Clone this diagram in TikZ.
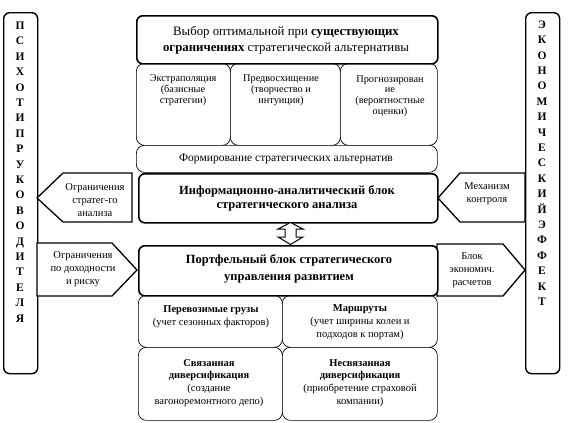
\documentclass[tikz,border=0pt]{standalone}
\usepackage{fontspec}
\setmainfont{Liberation Serif}
\begin{document}
\begin{tikzpicture}[x=1pt,y=-1pt,
  bigbox/.style={draw, line width=1.6pt, rounded corners=6pt, fill=white, anchor=north west, inner sep=0pt},
  smallbox/.style={draw, line width=0.7pt, rounded corners=8pt, fill=white, anchor=north west, inner sep=0pt},
  sidebox/.style={draw, line width=1.4pt, rounded corners=6pt, anchor=north west, inner sep=0pt},
  flag/.style={draw, line width=1.3pt, fill=white, line join=miter},
  lbl/.style={align=center, inner sep=0pt, font=\fontsize{10.5}{12.8}\selectfont},
  toplbl/.style={align=center, inner sep=0pt, font=\fontsize{10.3}{10.8}\selectfont},
  headlbl/.style={align=center, inner sep=0pt, font=\bfseries\fontsize{12.5}{14}\selectfont},
  letters/.style={align=center, inner sep=0pt, font=\bfseries\fontsize{11.5}{15.4}\selectfont},
]
\useasboundingbox (0,0) rectangle (574,423);

% side boxes
\node[sidebox, minimum width=34, minimum height=361] (lside) at (3,12) {};
\node[letters] (lletters) at (20,172) {П\\С\\И\\Х\\О\\Т\\И\\П\\Р\\У\\К\\О\\В\\О\\Д\\И\\Т\\Е\\Л\\Я};
\node[sidebox, minimum width=34, minimum height=361] (rside) at (525,12) {};
\node[letters] (rletters) at (542,163) {Э\\К\\О\\Н\\О\\М\\И\\Ч\\Е\\С\\К\\И\\Й\\Э\\Ф\\Ф\\Е\\К\\Т};

% three upper boxes
\node[smallbox, minimum width=94, minimum height=82] (b1) at (136,63) {};
\node[smallbox, minimum width=110, minimum height=82] (b2) at (230,63) {};
\node[smallbox, minimum width=97, minimum height=82] (b3) at (340,63) {};
\node[toplbl] (t1) at (183,90) {Экстраполяция\\(базисные\\стратегии)};
\node[toplbl] (t2) at (281,90) {Предвосхищение\\(творчество и\\интуиция)};
\node[toplbl] (t3) at (390,96) {Прогнозирован\\ие\\(вероятностные\\оценки)};

% formation
\node[smallbox, minimum width=301, minimum height=27] (form) at (136,145) {};
\node[lbl, font=\fontsize{11.5}{12}\selectfont] (tform) at (286,158.5) {Формирование стратегических альтернатив};

% top box
\node[bigbox, minimum width=301, minimum height=48] (top) at (136,15) {};
\node[align=center, inner sep=0pt, font=\fontsize{12.8}{16}\selectfont] (ttop) at (286,40)
  {Выбор оптимальной при \textbf{существующих}\\\textbf{ограничениях} стратегической альтернативы};

% left flag 1
\draw[flag] (37,198) -- (63,173) -- (132,173) -- (132,222) -- (63,222) -- cycle;
\node[lbl] (tl1) at (95,200) {Ограничения\\стратег-го\\анализа};
% right flag 1
\draw[flag] (438,198) -- (460,173) -- (525,173) -- (525,222) -- (460,222) -- cycle;
\node[lbl] (tr1) at (487,194) {Механизм\\контроля};
% left flag 2
\draw[flag] (37,243) -- (112,243) -- (137,270) -- (112,296) -- (37,296) -- cycle;
\node[lbl] (tl2) at (83,269) {Ограничения\\по доходности\\и риску};
% right flag 2
\draw[flag] (437,244) -- (503,244) -- (525,270) -- (503,296) -- (437,296) -- cycle;
\node[lbl] (tr2) at (472,270) {Блок\\экономич.\\расчетов};

% info block
\node[bigbox, minimum width=299, minimum height=49] (info) at (138,173) {};
\node[headlbl] (tinfo) at (287,198.5) {Информационно-аналитический блок\\стратегического анализа};

% lower rows
\node[smallbox, minimum width=144, minimum height=52] (c1) at (138,295) {};
\node[smallbox, minimum width=155, minimum height=52] (c2) at (282,295) {};
\node[smallbox, minimum width=144, minimum height=73] (d1) at (138,347) {};
\node[smallbox, minimum width=155, minimum height=73] (d2) at (282,347) {};
\node[lbl] (tc1) at (211,317) {\textbf{Перевозимые грузы}\\(учет сезонных факторов)};
\node[lbl] (tc2) at (360,322) {\textbf{Маршруты}\\(учет ширины колеи и\\подходов к портам)};
\node[lbl] (td1) at (209,383) {\textbf{Связанная}\\\textbf{диверсификация}\\(создание\\вагоноремонтного депо)};
\node[lbl] (td2) at (360,383) {\textbf{Несвязанная}\\\textbf{диверсификация}\\(приобретение страховой\\компании)};

% portfolio block
\node[bigbox, minimum width=299, minimum height=50] (port) at (138,245) {};
\node[headlbl, font=\bfseries\fontsize{12.5}{17}\selectfont] (tport) at (289,268.5) {Портфельный блок стратегического\\управления развитием};

% double arrow
\draw[line width=1pt, fill=white, line join=miter]
  (290.5,222.5) -- (303,229) -- (296,229) -- (296,237) -- (303,237) -- (290.5,244.5)
  -- (278,237) -- (285,237) -- (285,229) -- (278,229) -- cycle;
\end{tikzpicture}
\end{document}
